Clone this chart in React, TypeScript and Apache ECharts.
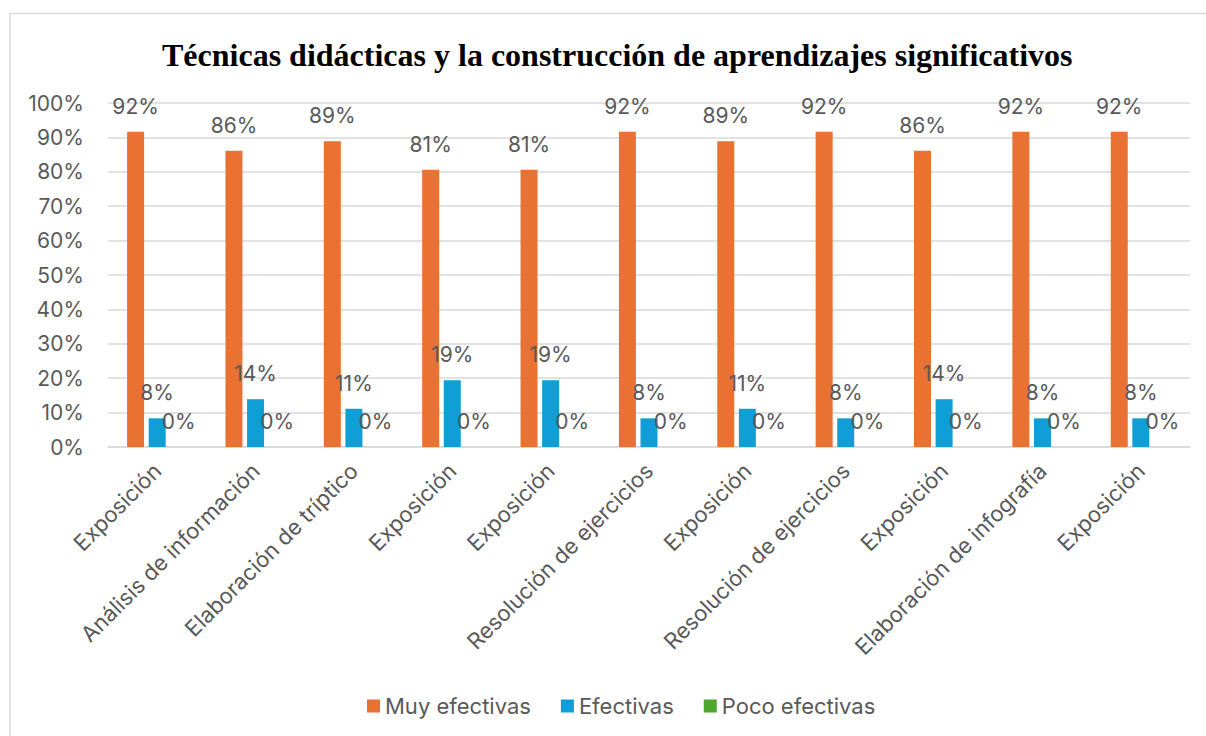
import React, { useEffect, useRef } from "react";
import * as echarts from "echarts";

const categories = [
  "Exposición",
  "Análisis de información",
  "Elaboración de tríptico",
  "Exposición",
  "Exposición",
  "Resolución de ejercicios",
  "Exposición",
  "Resolución de ejercicios",
  "Exposición",
  "Elaboración de infografía",
  "Exposición",
];
const muyEfectivas = [0.9167, 0.8611, 0.8889, 0.8056, 0.8056, 0.9167, 0.8889, 0.9167, 0.8611, 0.9167, 0.9167];
const efectivas = [0.0833, 0.1389, 0.1111, 0.1944, 0.1944, 0.0833, 0.1111, 0.0833, 0.1389, 0.0833, 0.0833];
const pocoEfectivas = [0, 0, 0, 0, 0, 0, 0, 0, 0, 0, 0];
const seriesNames = ["Muy efectivas", "Efectivas", "Poco efectivas"];
const colors = ["#E97132", "#0F9ED5", "#4EA72E"];
const titleText = "Técnicas didácticas y la construcción de aprendizajes significativos";

const FONT = "Inter, 'Noto Sans', sans-serif";
const TEXT = "#595959";
const FS = 21;

export default function App() {
  const ref = useRef<HTMLDivElement>(null);
  useEffect(() => {
    if (!ref.current) return;
    const chart = echarts.init(ref.current, null, { renderer: "svg" });
    const mk = (name: string, data: number[], color: string) => ({
      name,
      type: "bar",
      data,
      barWidth: 17,
      barGap: "27%",
      itemStyle: { color },
      label: {
        show: true,
        position: "top",
        distance: 15,
        color: TEXT,
        fontSize: FS,
        fontFamily: FONT,
        formatter: (p: any) => Math.round(p.value * 100) + "%",
      },
    });
    chart.setOption({
      animation: false,
      backgroundColor: "#fff",
      title: {
        text: titleText,
        left: 157,
        top: 34,
        textStyle: {
          fontFamily: "'Liberation Serif', 'Times New Roman', serif",
          fontWeight: "bold",
          fontSize: 32,
          color: "#000",
        },
      },
      graphic: [
        { type: "line", shape: { x1: 10, y1: 13.5, x2: 1206, y2: 13.5 }, style: { stroke: "#d9d9d9", lineWidth: 1.5 } },
        { type: "line", shape: { x1: 10, y1: 13, x2: 10, y2: 736 }, style: { stroke: "#d9d9d9", lineWidth: 1.5 } },
      ],
      legend: {
        top: 690,
        left: 362,
        itemWidth: 13,
        itemHeight: 13,
        itemGap: 30,
        icon: "rect",
        textStyle: { color: TEXT, fontSize: 22, fontFamily: FONT },
        data: seriesNames,
      },
      grid: { left: 108, right: 16, top: 103, bottom: 289, containLabel: false },
      xAxis: {
        type: "category",
        data: categories,
        axisLine: { lineStyle: { color: "#d9d9d9", width: 1.5 } },
        axisTick: { show: false },
        axisLabel: {
          rotate: 45,
          interval: 0,
          color: TEXT,
          fontSize: 22,
          fontFamily: FONT,
          margin: 20,
        },
      },
      yAxis: {
        type: "value",
        min: 0,
        max: 1,
        interval: 0.1,
        axisLine: { show: false },
        axisTick: { show: false },
        splitLine: { lineStyle: { color: "#d9d9d9", width: 1.5 } },
        axisLabel: {
          color: TEXT,
          fontSize: FS,
          fontFamily: FONT,
          margin: 24,
          formatter: (v: number) => Math.round(v * 100) + "%",
        },
      },
      series: [
        mk(seriesNames[0], muyEfectivas, colors[0]),
        mk(seriesNames[1], efectivas, colors[1]),
        mk(seriesNames[2], pocoEfectivas, colors[2]),
      ],
    });
    return () => chart.dispose();
  }, []);
  return (
    <div
      ref={ref}
      style={{ position: "fixed", left: 0, top: 0, width: 1206, height: 736 }}
    />
  );
}
